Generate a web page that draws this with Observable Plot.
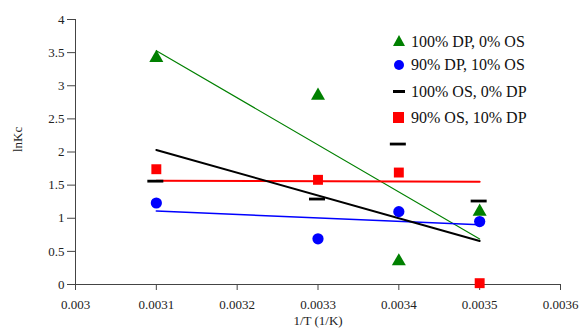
<!DOCTYPE html>
<html>
<head>
<meta charset="utf-8">
<script src="https://cdn.jsdelivr.net/npm/d3@7"></script>
<script src="https://cdn.jsdelivr.net/npm/@observablehq/plot@0.6"></script>
<style>
  html, body { margin: 0; padding: 0; background: #fff; }
  #wrap { position: relative; width: 581px; height: 331px; font-family: "Liberation Serif", "Times New Roman", serif; }
  #legend { position: absolute; left: 392px; top: 30px; font-size: 16px; color: #111; }
  #legend .row { position: absolute; left: 0; white-space: nowrap; height: 20px; line-height: 20px; }
  #legend svg { position: absolute; left: 0; top: 2px; }
  #legend span { position: absolute; left: 19px; top: 0; }
</style>
</head>
<body>
<div id="wrap"><div id="legend"></div></div>
<script>
// Data (1/T in 1/K, lnKc)
const xs = [0.0031, 0.0033, 0.0034, 0.0035];
const dp100 = [3.42, 2.85, 0.35, 1.10];   // 100% DP, 0% OS (green triangles)
const dp90  = [1.23, 0.69, 1.10, 0.95];   // 90% DP, 10% OS (blue circles)
const os100 = [1.56, 1.29, 2.12, 1.26];   // 100% OS, 0% DP (black dashes)
const os90  = [1.74, 1.58, 1.69, 0.02];   // 90% OS, 10% DP (red squares)
const seriesNames = ["100% DP, 0% OS", "90% DP, 10% OS", "100% OS, 0% DP", "90% OS, 10% DP"];
const xTicks = [0.003, 0.0031, 0.0032, 0.0033, 0.0034, 0.0035, 0.0036];
const yTicks = [0, 0.5, 1, 1.5, 2, 2.5, 3, 3.5, 4];

const rows = (vals) => xs.map((x, i) => ({x, y: vals[i]}));
const A = rows(dp100), B = rows(dp90), C = rows(os100), D = rows(os90);

const dash = { draw(ctx) { ctx.rect(-8, -1.4, 16, 2.8); } };

const fmt = d => String(d);

const chart = Plot.plot({
  width: 581,
  height: 331,
  marginLeft: 75,
  marginRight: 21,
  marginTop: 19,
  marginBottom: 47,
  style: { fontFamily: "'Liberation Serif', 'Times New Roman', serif", fontSize: "13px", color: "#222", background: "white" },
  x: { domain: [0.003, 0.0036], ticks: xTicks, tickFormat: fmt, label: null },
  y: { domain: [0, 4], ticks: yTicks, tickFormat: fmt, label: null },
  marks: [
    Plot.axisX({ ticks: xTicks, tickFormat: fmt, tickSize: 6, tickPadding: 9, stroke: "#444", fontSize: 13 }),
    Plot.axisY({ ticks: yTicks, tickFormat: fmt, tickSize: 8, tickPadding: 3, stroke: "#444", fontSize: 13 }),
    Plot.ruleY([0], { stroke: "#444" }),
    Plot.ruleX([0.003], { stroke: "#444" }),
    // trend lines
    Plot.linearRegressionY(A, { x: "x", y: "y", stroke: "green", strokeWidth: 1.1, ci: 0 }),
    Plot.linearRegressionY(B, { x: "x", y: "y", stroke: "blue", strokeWidth: 1.6, ci: 0 }),
    Plot.linearRegressionY(C, { x: "x", y: "y", stroke: "red", strokeWidth: 2, ci: 0 }),
    Plot.linearRegressionY(D, { x: "x", y: "y", stroke: "black", strokeWidth: 2, ci: 0 }),
    // markers
    Plot.dot(C, { x: "x", y: "y", symbol: dash, fill: "black", stroke: "none", dx: -1 }),
    Plot.dot(D, { x: "x", y: "y", symbol: "square", r: 5.6, fill: "red", stroke: "none" }),
    Plot.dot(B, { x: "x", y: "y", symbol: "circle", r: 5.6, fill: "blue", stroke: "none" }),
    Plot.dot(A, { x: "x", y: "y", symbol: "triangle", r: 5.2, fill: "green", stroke: "none" }),
    Plot.text(["lnKc"], { frameAnchor: "left", dx: -58, dy: 0, rotate: -90, fontSize: 13, fill: "#222" }),
    Plot.text(["1/T (1/K)"], { frameAnchor: "bottom", dy: 40, fontSize: 13, fill: "#222" })
  ]
});
document.getElementById("wrap").prepend(chart);

// Legend (HTML overlay)
const legendItems = [
  { name: seriesNames[0], top: 2,  svg: '<svg width="14" height="14"><path d="M7,1 L13,12 L1,12 Z" fill="green"/></svg>' },
  { name: seriesNames[1], top: 25, svg: '<svg width="14" height="14"><circle cx="7" cy="8" r="5" fill="blue"/></svg>' },
  { name: seriesNames[2], top: 52, svg: '<svg width="14" height="14"><rect x="1" y="6" width="12" height="3" fill="black"/></svg>' },
  { name: seriesNames[3], top: 78, svg: '<svg width="14" height="14"><rect x="1" y="2" width="11" height="11" fill="red"/></svg>' }
];
const leg = document.getElementById("legend");
for (const it of legendItems) {
  const row = document.createElement("div");
  row.className = "row";
  row.style.top = it.top + "px";
  row.innerHTML = it.svg + "<span>" + it.name + "</span>";
  leg.appendChild(row);
}
</script>
</body>
</html>
